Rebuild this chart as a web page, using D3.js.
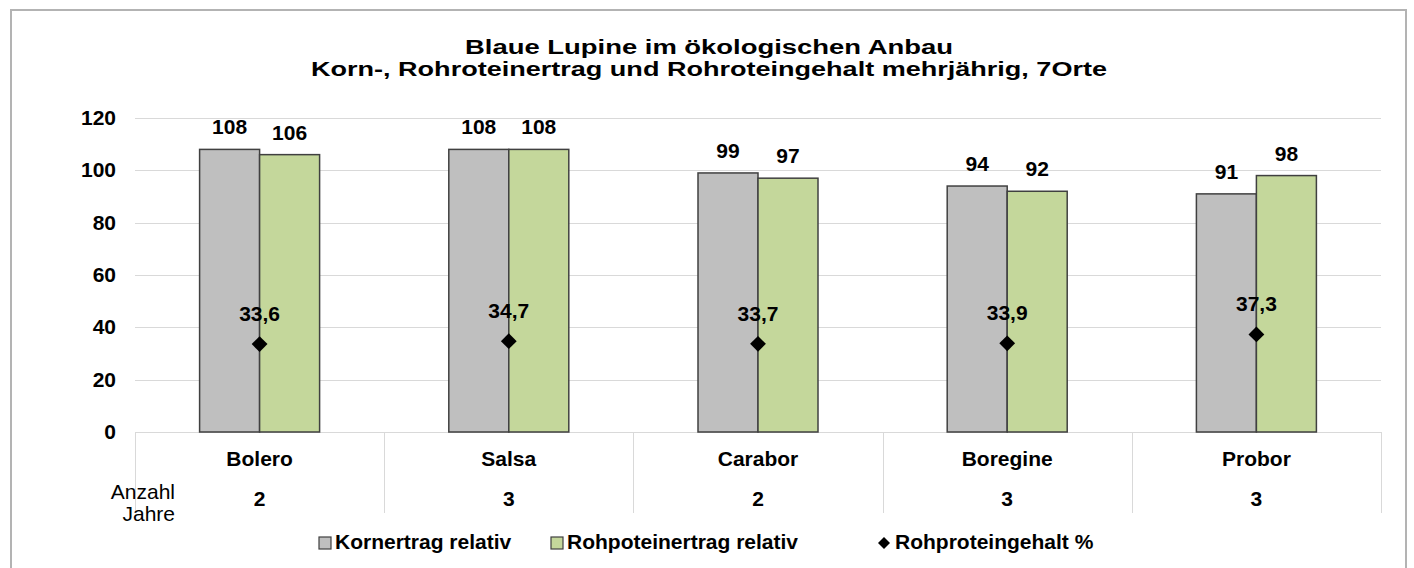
<!DOCTYPE html>
<html lang="de">
<head>
<meta charset="UTF-8">
<title>Blaue Lupine im ökologischen Anbau</title>
<style>
  body { margin: 0; background: #fff; }
  svg { display: block; font-family: "Liberation Sans", Arial, sans-serif; }
  .bold { font-weight: bold; font-size: 21px; fill: #000; }
  .grid { stroke: #d9d9d9; stroke-width: 1; }
</style>
</head>
<body>
<script src="https://d3js.org/d3.v7.min.js"></script>
<script>
// data
const categories = ["Bolero", "Salsa", "Carabor", "Boregine", "Probor"];
const kornertrag = [108, 108, 99, 94, 91];
const proteinertrag = [106, 108, 97, 92, 98];
const proteingehalt = [33.6, 34.7, 33.7, 33.9, 37.3];
const jahre = [2, 3, 2, 3, 3];
const yTicks = [0, 20, 40, 60, 80, 100, 120];
const seriesNames = ["Kornertrag relativ", "Rohpoteinertrag relativ", "Rohproteingehalt %"];
const barColors = ["#bfbfbf", "#c4d79b"];

const width = 1414, height = 568;
const plot = { left: 135, right: 1381, top: 118, bottom: 432 };

const svg = d3.select("body").append("svg")
  .attr("width", width)
  .attr("height", height);

// chart frame
svg.append("rect")
  .attr("x", 11).attr("y", 10)
  .attr("width", 1395).attr("height", 580)
  .attr("fill", "#fff")
  .attr("stroke", "#b3b3b3")
  .attr("stroke-width", 2);

// title (glyphs are drawn wide in the original)
const title = svg.append("g");
title.append("text")
  .attr("class", "bold")
  .attr("x", 709).attr("y", 54)
  .attr("text-anchor", "middle")
  .attr("textLength", 488)
  .attr("lengthAdjust", "spacingAndGlyphs")
  .text("Blaue Lupine im ökologischen Anbau");
title.append("text")
  .attr("class", "bold")
  .attr("x", 709).attr("y", 76)
  .attr("text-anchor", "middle")
  .attr("textLength", 796)
  .attr("lengthAdjust", "spacingAndGlyphs")
  .text("Korn-, Rohroteinertrag und Rohroteingehalt mehrjährig, 7Orte");
title.selectAll("text").style("font-size", "20px");

const y = d3.scaleLinear().domain([0, 120]).range([plot.bottom, plot.top]);
const x0 = d3.scaleBand().domain(categories).range([plot.left, plot.right]).padding(0);
const bw = x0.bandwidth();
const x1 = d3.scaleBand().domain([0, 1]).range([bw / 2 - 60, bw / 2 + 60]).padding(0);

// gridlines
svg.append("g").selectAll("line")
  .data(yTicks)
  .join("line")
  .attr("class", "grid")
  .attr("x1", plot.left).attr("x2", plot.right)
  .attr("y1", d => Math.round(y(d)) + 0.5)
  .attr("y2", d => Math.round(y(d)) + 0.5);

// y tick labels
svg.append("g").selectAll("text")
  .data(yTicks)
  .join("text")
  .attr("class", "bold")
  .attr("x", 116)
  .attr("y", d => y(d) + 7)
  .attr("text-anchor", "end")
  .text(d => d);

// category separators below axis
const bounds = categories.map(c => x0(c)).concat([plot.right]);
svg.append("g").selectAll("line")
  .data(bounds)
  .join("line")
  .attr("class", "grid")
  .attr("x1", d => Math.round(d) + 0.5).attr("x2", d => Math.round(d) + 0.5)
  .attr("y1", plot.bottom).attr("y2", 513);

// bars
const groups = svg.append("g").selectAll("g")
  .data(categories)
  .join("g")
  .attr("transform", c => `translate(${x0(c)},0)`);

const barData = (c, i) => [kornertrag[i], proteinertrag[i]].map((v, s) => ({ v, s }));

groups.selectAll("rect")
  .data(barData)
  .join("rect")
  .attr("x", d => x1(d.s))
  .attr("width", x1.bandwidth())
  .attr("y", d => y(d.v))
  .attr("height", d => y(0) - y(d.v))
  .attr("fill", d => barColors[d.s])
  .attr("stroke", "#404040")
  .attr("stroke-width", 1.5);

groups.selectAll("text.val")
  .data(barData)
  .join("text")
  .attr("class", "val bold")
  .attr("x", d => x1(d.s) + x1.bandwidth() / 2)
  .attr("y", d => y(d.v) - 15)
  .attr("text-anchor", "middle")
  .text(d => d.v);

// protein content markers
const diamond = d3.symbol().type(d3.symbolSquare).size(125);
groups.append("path")
  .attr("d", diamond)
  .attr("transform", (c, i) => `translate(${bw / 2},${y(proteingehalt[i])}) rotate(45)`)
  .attr("fill", "#000");

groups.append("text")
  .attr("class", "bold")
  .attr("x", bw / 2)
  .attr("y", (c, i) => y(proteingehalt[i]) - 23)
  .attr("text-anchor", "middle")
  .text((c, i) => proteingehalt[i].toFixed(1).replace(".", ","));

// category names and years
groups.append("text")
  .attr("class", "bold")
  .attr("x", bw / 2)
  .attr("y", 466)
  .attr("text-anchor", "middle")
  .text(c => c);

groups.append("text")
  .attr("class", "bold")
  .attr("x", bw / 2)
  .attr("y", 506)
  .attr("text-anchor", "middle")
  .text((c, i) => jahre[i]);

const jl = svg.append("text")
  .attr("x", 175)
  .attr("text-anchor", "end")
  .style("font-size", "21px");
jl.append("tspan").attr("x", 175).attr("y", 499).text("Anzahl");
jl.append("tspan").attr("x", 175).attr("y", 521).text("Jahre");

// legend
const legendItems = [
  { name: seriesNames[0], x: 319, type: "rect", color: barColors[0] },
  { name: seriesNames[1], x: 551, type: "rect", color: barColors[1] },
  { name: seriesNames[2], x: 878, type: "diamond", color: "#000" }
];
const lg = svg.append("g").selectAll("g")
  .data(legendItems)
  .join("g")
  .attr("transform", d => `translate(${d.x},537)`);

lg.filter(d => d.type === "rect").append("rect")
  .attr("width", 12).attr("height", 12)
  .attr("fill", d => d.color)
  .attr("stroke", "#404040")
  .attr("stroke-width", 1.2);

lg.filter(d => d.type === "diamond").append("path")
  .attr("d", d3.symbol().type(d3.symbolSquare).size(72))
  .attr("transform", "translate(6,6) rotate(45)")
  .attr("fill", "#000");

lg.append("text")
  .attr("class", "bold")
  .attr("x", d => d.type === "rect" ? 16 : 17)
  .attr("y", 12)
  .text(d => d.name);
</script>
</body>
</html>
